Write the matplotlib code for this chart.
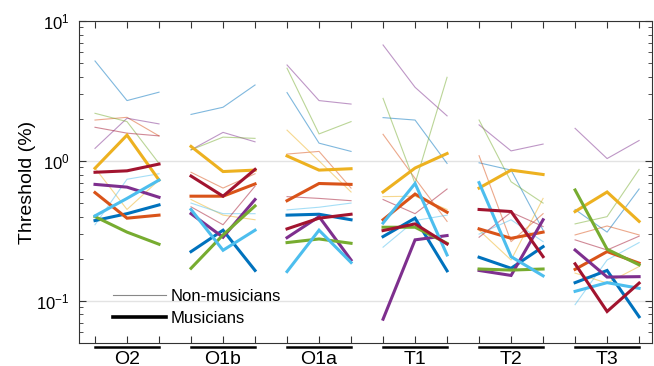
import matplotlib
matplotlib.use('Agg')
import matplotlib.pyplot as plt
import matplotlib.transforms as mtransforms
from matplotlib.lines import Line2D
import numpy as np

plt.rcParams['font.family'] = ['Liberation Sans', 'DejaVu Sans']

groups = ['O2', 'O1b', 'O1a', 'T1', 'T2', 'T3']

# MATLAB default colours
colors = ['#0072BD', '#D95319', '#EDB120', '#7E2F8E', '#77AC30', '#4DBEEE', '#A2142F']

# Musicians, 3 points per group (O2, O1b, O1a, T1, T2, T3)
mus_blue = [0.375, 0.42, 0.485, 0.225, 0.32, 0.165, 0.41, 0.416, 0.38,
            0.288, 0.39, 0.164, 0.205, 0.171, 0.244, 0.135, 0.165, 0.077]
mus_orange = [0.594, 0.39, 0.41, 0.56, 0.56, 0.685, 0.52, 0.69, 0.68,
              0.38, 0.58, 0.43, 0.327, 0.28, 0.31, 0.168, 0.225, 0.186]
mus_yellow = [0.887, 1.53, 0.73, 1.27, 0.84, 0.86, 1.086, 0.86, 0.88,
              0.6, 0.89, 1.13, 0.64, 0.86, 0.80, 0.435, 0.60, 0.37]
mus_purple = [0.68, 0.65, 0.55, 0.42, 0.285, 0.53, 0.283, 0.40, 0.196,
              0.074, 0.273, 0.293, 0.165, 0.152, 0.38, 0.231, 0.148, 0.149]
mus_green = [0.40, 0.31, 0.254, 0.171, 0.296, 0.477, 0.261, 0.277, 0.258,
             0.336, 0.336, 0.258, 0.169, 0.166, 0.169, 0.62, 0.234, 0.181]
mus_lightblue = [0.405, 0.54, 0.73, 0.45, 0.23, 0.32, 0.162, 0.32, 0.188,
                 0.36, 0.69, 0.213, 0.70, 0.207, 0.151, 0.117, 0.135, 0.123]
mus_darkred = [0.83, 0.85, 0.95, 0.78, 0.56, 0.87, 0.327, 0.39, 0.416,
               0.318, 0.355, 0.255, 0.45, 0.435, 0.207, 0.184, 0.084, 0.134]

# Non-musicians
non_blue = [5.18, 2.7, 3.1, 2.15, 2.42, 3.49, 3.08, 1.34, 1.17,
            2.04, 1.96, 0.96, 0.97, 0.86, 0.32, 0.45, 0.31, 0.63]
non_orange = [1.96, 2.05, 1.51, 0.83, 0.64, 0.81, 1.12, 1.17, 0.64,
              1.55, 0.75, 0.37, 1.09, 0.265, 0.42, 0.296, 0.343, 0.296]
non_yellow = [0.89, 0.45, 0.73, 0.53, 0.41, 0.38, 1.66, 1.0, 0.6,
              0.556, 0.56, 0.45, 0.32, 0.196, 0.54, 0.158, 0.134, 0.176]
non_purple = [1.23, 2.02, 1.84, 1.2, 1.6, 1.37, 4.85, 2.7, 2.55,
              6.74, 3.36, 2.1, 1.81, 1.18, 1.32, 1.71, 1.04, 1.4]
non_green = [2.19, 1.91, 0.96, 1.2, 1.48, 1.45, 4.6, 1.56, 1.91,
             2.8, 0.69, 3.96, 1.96, 0.71, 0.5, 0.355, 0.4, 0.87]
non_lightblue = [0.35, 0.74, 0.81, 0.5, 0.42, 0.42, 0.447, 0.467, 0.5,
                 0.242, 0.375, 0.41, 0.30, 0.38, 0.265, 0.094, 0.196, 0.261]
non_darkred = [1.74, 1.58, 1.51, 0.47, 0.35, 0.66, 0.556, 0.54, 0.52,
               0.53, 0.42, 0.63, 0.285, 0.43, 0.34, 0.273, 0.231, 0.29]

musicians = [mus_blue, mus_orange, mus_yellow, mus_purple, mus_green, mus_lightblue, mus_darkred]
non_musicians = [non_blue, non_orange, non_yellow, non_purple, non_green, non_lightblue, non_darkred]

fig = plt.figure(figsize=(6.54, 3.66), dpi=100)
ax = fig.add_axes([0.1208, 0.0628, 0.876, 0.8798])

x_all = np.arange(1, 19)

# Thin lines first
for vals, c in zip(non_musicians, colors):
    for g in range(len(groups)):
        sl = slice(3 * g, 3 * g + 3)
        ax.plot(x_all[sl], vals[sl], color=c, alpha=0.5, linewidth=0.8, zorder=2)

# Thick lines
for vals, c in zip(musicians, colors):
    for g in range(len(groups)):
        sl = slice(3 * g, 3 * g + 3)
        ax.plot(x_all[sl], vals[sl], color=c, linewidth=2.2, zorder=3,
                solid_joinstyle='miter')

ax.set_yscale('log')
ax.set_ylim(0.05, 10)
ax.set_xlim(0.5, 18.4)
ax.set_xticks(x_all)
ax.set_xticklabels([])
ax.tick_params(axis='both', which='both', direction='in', top=True, right=True,
               colors='#333333', labelcolor='black', labelsize=12)
ax.tick_params(axis='both', which='major', length=5, width=0.8)
ax.tick_params(axis='y', which='major', pad=7)
ax.tick_params(axis='y', which='minor', length=3, width=0.6)
ax.yaxis.grid(True, which='major', color='#e3e3e3', linewidth=1)
ax.set_axisbelow(True)
for sp in ax.spines.values():
    sp.set_color('#333333')
    sp.set_linewidth(0.8)

ax.set_ylabel('Threshold (%)', fontsize=14, labelpad=0)

# Group labels under the axis
trans = mtransforms.blended_transform_factory(ax.transData, ax.transAxes)
for g, name in enumerate(groups):
    x0, x1 = x_all[3 * g], x_all[3 * g + 2]
    ax.plot([x0, x1], [-0.012, -0.012], color='black', linewidth=1.8,
            transform=trans, clip_on=False)
    ax.text((x0 + x1) / 2, -0.064, name, transform=trans, ha='center',
            va='baseline', fontsize=14)

handles = [Line2D([0], [0], color='#888888', linewidth=0.8),
           Line2D([0], [0], color='black', linewidth=2.6)]
ax.legend(handles, ['Non-musicians', 'Musicians'], loc='upper left',
          bbox_to_anchor=(0.045, 0.195), frameon=False, fontsize=12,
          handlelength=3.2, handletextpad=0.25, labelspacing=0.45, borderpad=0)

fig.savefig('out.png', dpi=100)
